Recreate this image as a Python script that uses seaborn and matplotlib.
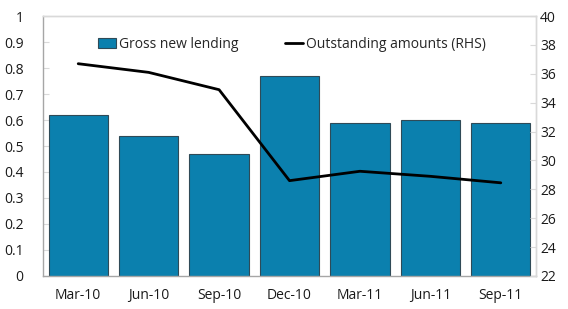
import numpy as np
import pandas as pd
import matplotlib
matplotlib.use("Agg")
import matplotlib.pyplot as plt
import seaborn as sns
from matplotlib.ticker import FixedLocator

quarters = ["Mar-10", "Jun-10", "Sep-10", "Dec-10", "Mar-11", "Jun-11", "Sep-11"]
gross_new_lending = [0.62, 0.54, 0.47, 0.77, 0.59, 0.60, 0.59]
outstanding_amounts = [36.7, 36.1, 34.9, 28.6, 29.25, 28.9, 28.45]

sns.set_style("white")
plt.rcParams["font.family"] = ["Open Sans", "DejaVu Sans"]

df = pd.DataFrame({"quarter": quarters, "gross": gross_new_lending,
                   "outstanding": outstanding_amounts})

fig = plt.figure(figsize=(5.68, 3.09), dpi=100)
ax = fig.add_axes([0.0757, 0.107, 0.868, 0.841])

sns.barplot(data=df, x="quarter", y="gross", color="#0b80ae", saturation=1,
            edgecolor="#2f4a57", linewidth=0.8, width=0.84, ax=ax,
            label="Gross new lending")
ax.set_ylim(0, 1)
ax.set_yticks(np.arange(0, 1.01, 0.1))
ax.set_yticklabels(["0", "0.1", "0.2", "0.3", "0.4", "0.5", "0.6", "0.7", "0.8", "0.9", "1"])
ax.set_xlim(-0.5, len(quarters) - 0.5)
ax.set_xlabel("")
ax.set_ylabel("")

ax2 = ax.twinx()
sns.lineplot(x=np.arange(len(quarters)), y=df["outstanding"], color="black",
             linewidth=2, ax=ax2, label="Outstanding amounts (RHS)", legend=False)
ax2.set_ylim(22, 40)
ax2.set_yticks(np.arange(22, 41, 2))
ax2.set_ylabel("")

for a in (ax, ax2):
    for s in a.spines.values():
        s.set_color("#d9d9d9")
        s.set_linewidth(1)
ax.spines["left"].set_color("#a6a6a6")
ax.spines["bottom"].set_color("#a6a6a6")
ax2.spines["left"].set_visible(False)
ax2.spines["bottom"].set_visible(False)

fs = 10
ax.tick_params(axis="y", direction="in", length=4, color="#d9d9d9",
               labelsize=fs, labelcolor="#1a1a1a", pad=14)
ax.tick_params(axis="x", which="major", length=0, labelsize=fs,
               labelcolor="#1a1a1a", pad=9)
ax.xaxis.set_minor_locator(FixedLocator(np.arange(-0.5, len(quarters), 1)))
ax.tick_params(axis="x", which="minor", direction="in", length=4, color="#d9d9d9")
ax2.tick_params(axis="y", direction="in", length=4, color="#d9d9d9",
                labelsize=fs, labelcolor="#1a1a1a", pad=3)

h1, l1 = ax.get_legend_handles_labels()
h2, l2 = ax2.get_legend_handles_labels()
ax.legend(h1 + h2, l1 + l2, loc="upper left", bbox_to_anchor=(0.1, 0.94),
          ncol=2, frameon=False, fontsize=fs, handlelength=1.3,
          handletextpad=0.2, columnspacing=3.4, borderaxespad=0)
ax2.set_zorder(ax.get_zorder() + 1)
ax2.patch.set_visible(False)

fig.savefig("out.png", dpi=100)
